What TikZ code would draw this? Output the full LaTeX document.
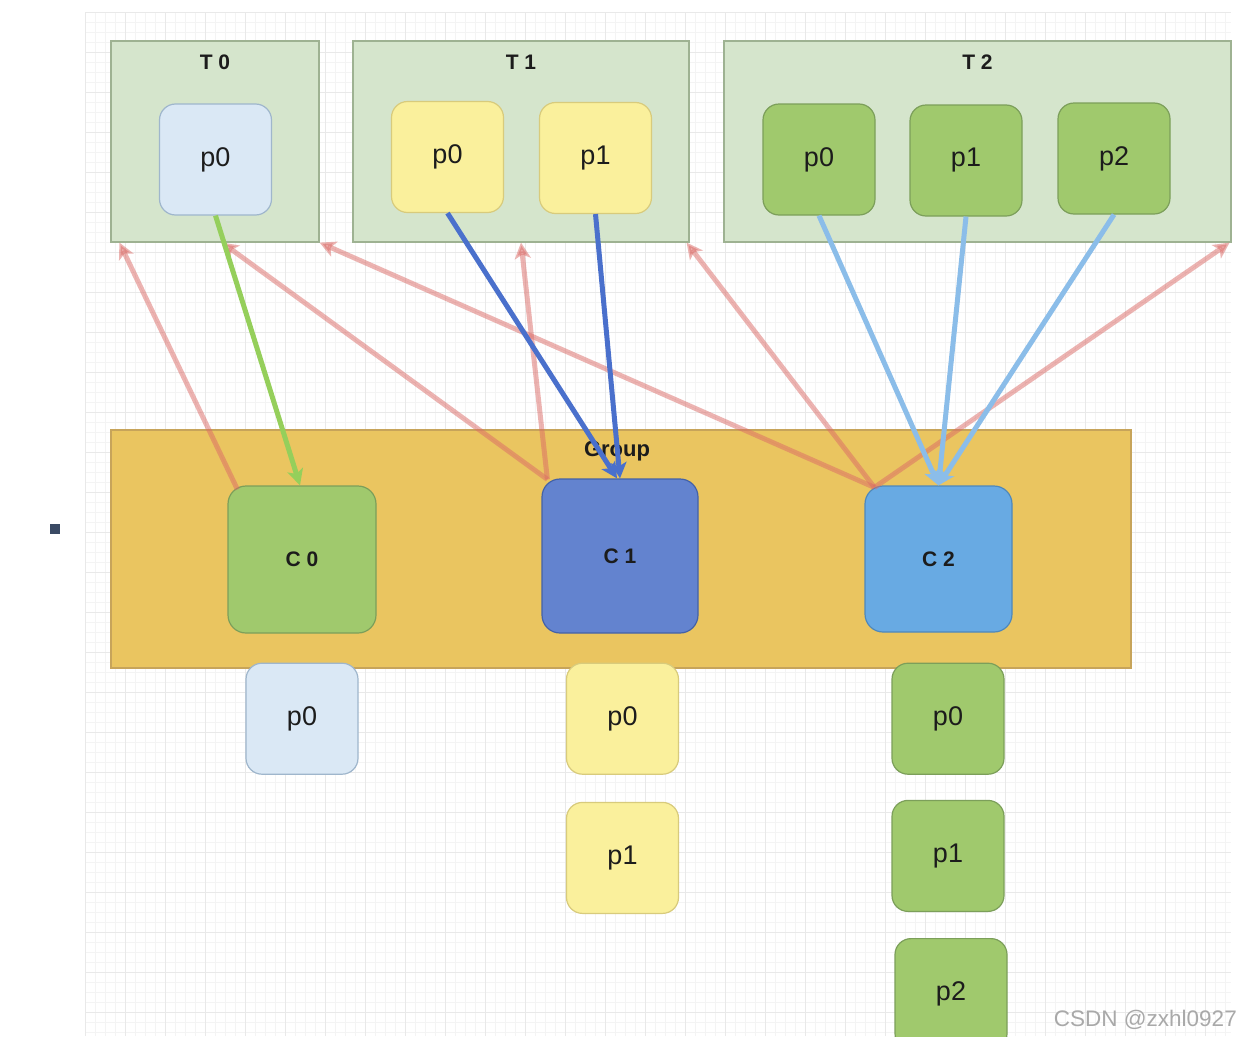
\documentclass[tikz,border=0pt]{standalone}
\usepackage{fontspec}
\setmainfont{Liberation Sans}
\usetikzlibrary{arrows.meta,positioning,calc}
\definecolor{kfGrid}{HTML}{F4F4F4}
\definecolor{kfGridMajor}{HTML}{E9E9E9}
\definecolor{kfTopic}{HTML}{D5E5CC}
\definecolor{kfTopicLine}{HTML}{9EB292}
\definecolor{kfBlueP}{HTML}{DAE8F5}
\definecolor{kfBluePLine}{HTML}{9FB6CC}
\definecolor{kfYellow}{HTML}{FAF09C}
\definecolor{kfYellowLine}{HTML}{D8CB7C}
\definecolor{kfGreen}{HTML}{A0C96D}
\definecolor{kfGreenLine}{HTML}{7C9F5A}
\definecolor{kfGroup}{HTML}{EAC560}
\definecolor{kfGroupLine}{HTML}{C7A45A}
\definecolor{kfCone}{HTML}{6383CF}
\definecolor{kfConeLine}{HTML}{4462A8}
\definecolor{kfCtwo}{HTML}{68AAE3}
\definecolor{kfCtwoLine}{HTML}{4E88BC}
\definecolor{kfFetch}{HTML}{DB6A66}
\definecolor{kfArrGreen}{HTML}{95CF5B}
\definecolor{kfArrBlue}{HTML}{4A70CC}
\definecolor{kfArrSky}{HTML}{8BBDE9}
\definecolor{kfText}{HTML}{1C1C1C}
\definecolor{kfDot}{HTML}{3A4A64}
\definecolor{kfMark}{HTML}{A9A9A9}
\tikzset{
  kfnode/.style={
    draw, inner sep=0pt, line width=1.2pt, text=kfText, align=center
  },
  topicbox/.style={kfnode, fill=kfTopic, draw=kfTopicLine, minimum height=201pt},
  partbox/.style={kfnode, rounded corners=16pt, minimum width=112pt, minimum height=111pt,
    font=\fontsize{27}{30}\selectfont},
  partblue/.style={partbox, fill=kfBlueP, draw=kfBluePLine},
  partyellow/.style={partbox, fill=kfYellow, draw=kfYellowLine},
  partgreen/.style={partbox, fill=kfGreen, draw=kfGreenLine},
  groupbox/.style={kfnode, fill=kfGroup, draw=kfGroupLine, minimum width=1020pt, minimum height=238pt},
  consumer/.style={kfnode, rounded corners=18pt, font=\fontsize{21}{24}\selectfont\bfseries},
  tlabel/.style={text=kfText, inner sep=0pt, font=\fontsize{21}{24}\selectfont\bfseries},
  fetch/.style={-{Stealth[length=16pt,width=16pt,inset=4pt]}, line width=5pt, draw=kfFetch, fill=kfFetch, opacity=0.5},
  assign/.style={-{Stealth[length=16pt,width=16pt,inset=4pt]}, line width=5pt},
  gridline/.style={draw=kfGrid, line width=0.8pt},
  gridmajor/.style={draw=kfGridMajor, line width=1pt}
}
\begin{document}
\begin{tikzpicture}[x=1pt, y=-1pt, node distance=27pt]
  \useasboundingbox (0,0) rectangle (1241,1036);
  \clip (0,0) rectangle (1241,1036);
  \fill[white] (0,0) rectangle (1241,1036);
  \foreach \gx in {85,95,...,1231} \draw[gridline] (\gx,12) -- (\gx,1036);
  \foreach \gy in {12,22,...,1036} \draw[gridline] (85,\gy) -- (1231,\gy);
  \foreach \gx in {85,125,...,1231} \draw[gridmajor] (\gx,12) -- (\gx,1036);
  \foreach \gy in {12,52,...,1036} \draw[gridmajor] (85,\gy) -- (1231,\gy);
  \fill[kfDot] (50,524) rectangle (60,534);

  \node[topicbox, minimum width=208pt] (t0) at (215,141.5) {};
  \node[topicbox, minimum width=336pt] (t1) at (521,141.5) {};
  \node[topicbox, minimum width=507pt] (t2) at (977.5,141.5) {};
  \node[tlabel] (t0lbl) at ($(t0.north)+(0,22)$) {T 0};
  \node[tlabel] (t1lbl) at ($(t1.north)+(0,22)$) {T 1};
  \node[tlabel] (t2lbl) at ($(t2.north)+(0,22)$) {T 2};

  \node[partblue] (t0p0) at (215.5,159.5) {p0};
  \node[partyellow] (t1p0) at (447.5,157) {p0};
  \node[partyellow] (t1p1) at (595.5,158) {p1};
  \node[partgreen] (t2p0) at (819,159.5) {p0};
  \node[partgreen] (t2p1) at (966,160.5) {p1};
  \node[partgreen] (t2p2) at (1114,158.5) {p2};

  \node[groupbox] (grp) at (621,549) {};
  \node[tlabel, font=\fontsize{22}{24}\selectfont\bfseries] (grplbl) at ($(grp.north)+(-4,22)$) {Group};

  \node[consumer, fill=kfGreen, draw=kfGreenLine, minimum width=148pt, minimum height=147pt] (c0) at (302,559.5) {C 0};
  \node[consumer, fill=kfCone, draw=kfConeLine, minimum width=156pt, minimum height=154pt] (c1) at (620,556) {C 1};
  \node[consumer, fill=kfCtwo, draw=kfCtwoLine, minimum width=147pt, minimum height=146pt] (c2) at (938.5,559) {C 2};

  \node[partblue, below=29pt of c0] (c0p0) {p0};
  \node[partyellow, below=29pt of c1, xshift=2.5pt] (c1p0) {p0};
  \node[partyellow, below=of c1p0] (c1p1) {p1};
  \node[partgreen, below=30pt of c2, xshift=9.5pt] (c2p0) {p0};
  \node[partgreen, below=25pt of c2p0] (c2p1) {p1};
  \node[partgreen, below=26pt of c2p1, xshift=3pt] (c2p2) {p2};

  \draw[fetch] ([shift={(10,4)}]c0.north west) -- ([xshift=9pt]t0.south west);
  \draw[fetch] ([shift={(6,1)}]c1.north west) -- ([xshift=7pt]t0.south);
  \draw[fetch] ([shift={(6,1)}]c1.north west) -- (t1.south);
  \draw[fetch] ([shift={(10,2)}]c2.north west) -- (t0.south east);
  \draw[fetch] ([shift={(10,2)}]c2.north west) -- ([xshift=-3pt]t1.south east);
  \draw[fetch] ([shift={(10,2)}]c2.north west) -- ([xshift=-2pt]t2.south east);

  \draw[assign, kfArrGreen] (t0p0.south) -- ([xshift=-2pt]c0.north);
  \draw[assign, kfArrBlue] (t1p0.south) -- ([xshift=-3pt]c1.north);
  \draw[assign, kfArrBlue] (t1p1.south) -- (c1.north);
  \draw[assign, kfArrSky] (t2p0.south) -- (c2.north);
  \draw[assign, kfArrSky] (t2p1.south) -- (c2.north);
  \draw[assign, kfArrSky] (t2p2.south) -- (c2.north);

  \node[text=kfMark, anchor=base east, inner sep=0pt, font=\fontsize{22.5}{26}\selectfont] (mark) at (1237,1026) {CSDN @zxhl0927};
\end{tikzpicture}
\end{document}
